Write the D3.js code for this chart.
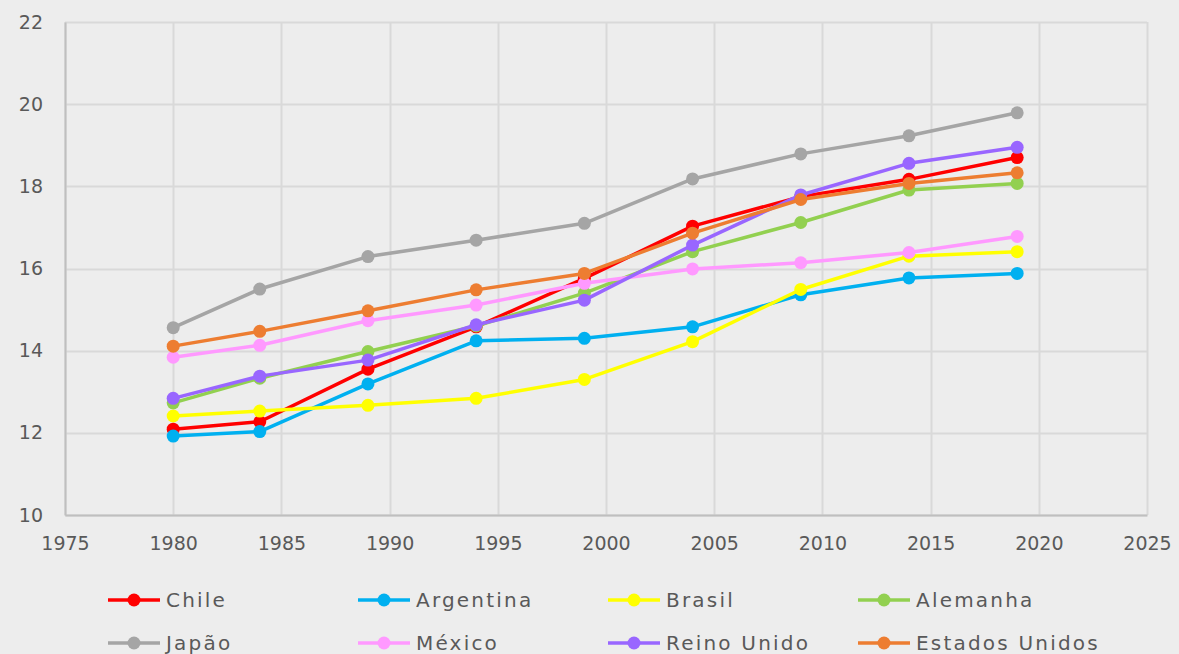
<!DOCTYPE html>
<html>
<head>
<meta charset="utf-8">
<script src="https://cdn.jsdelivr.net/npm/d3@7"></script>
<style>
	body { margin: 0; background: #ededed; overflow: hidden; }
	svg { display: block; }
	.tick text { font-family: "DejaVu Sans", sans-serif; font-size: 19px; fill: #595959; }
	.legend text { font-family: "DejaVu Sans", sans-serif; font-size: 20px; fill: #595959; letter-spacing: 2.2px; }
</style>
</head>
<body>
<div id="chart"></div>
<script>

	// data
	var years = [1980, 1984, 1989, 1994, 1999, 2004, 2009, 2014, 2019];

	var chile    = [12.09, 12.27, 13.55, 14.58, 15.76, 17.03, 17.75, 18.17, 18.70];
	var argentina = [11.92, 12.03, 13.19, 14.24, 14.30, 14.58, 15.36, 15.77, 15.88];
	var brasil   = [12.41, 12.53, 12.67, 12.84, 13.30, 14.22, 15.49, 16.30, 16.41];
	var alemanha = [12.73, 13.33, 13.98, 14.60, 15.40, 16.41, 17.12, 17.91, 18.07];
	var japao    = [14.56, 15.50, 16.29, 16.69, 17.10, 18.18, 18.79, 19.23, 19.79];
	var mexico   = [13.84, 14.13, 14.73, 15.11, 15.64, 15.99, 16.14, 16.39, 16.78];
	var reinoUnido = [12.84, 13.38, 13.77, 14.63, 15.23, 16.57, 17.79, 18.56, 18.95];
	var eua      = [14.11, 14.47, 14.97, 15.48, 15.88, 16.86, 17.68, 18.07, 18.33];

	var seriesNames = ["Chile", "Argentina", "Brasil", "Alemanha", "Japão", "México", "Reino Unido", "Estados Unidos"];
	var seriesValues = [chile, argentina, brasil, alemanha, japao, mexico, reinoUnido, eua];
	var seriesColors = ["#ff0000", "#00b0f0", "#ffff00", "#92d050", "#a5a5a5", "#ff99ff", "#9966ff", "#ed7d31"];

	var xTicks = [1975, 1980, 1985, 1990, 1995, 2000, 2005, 2010, 2015, 2020, 2025];
	var yTicks = [10, 12, 14, 16, 18, 20, 22];

	var W = 1179, H = 654;
	var margin = {top: 22, right: 32, bottom: 139, left: 65};
	var width = W - margin.left - margin.right;
	var height = H - margin.top - margin.bottom;

	var svg = d3.select("#chart").append("svg")
		.attr("width", W)
		.attr("height", H);

	svg.append("rect")
		.attr("width", W)
		.attr("height", H)
		.attr("fill", "#ededed");

	var g = svg.append("g")
		.attr("transform", "translate(" + margin.left + "," + margin.top + ")");

	var x = d3.scaleLinear().domain([1975, 2025]).range([0, width]);
	var y = d3.scaleLinear().domain([10, 22]).range([height, 0]);

	// gridlines
	g.append("g")
		.selectAll("line")
		.data(yTicks)
		.enter()
		.append("line")
			.attr("x1", 0)
			.attr("x2", width)
			.attr("y1", function(d) { return Math.round(y(d)) + 0.5; })
			.attr("y2", function(d) { return Math.round(y(d)) + 0.5; })
			.attr("stroke", "#d9d9d9")
			.attr("stroke-width", 2);

	g.append("g")
		.selectAll("line")
		.data(xTicks)
		.enter()
		.append("line")
			.attr("x1", function(d) { return Math.round(x(d)) + 0.5; })
			.attr("x2", function(d) { return Math.round(x(d)) + 0.5; })
			.attr("y1", 0)
			.attr("y2", height)
			.attr("stroke", "#d9d9d9")
			.attr("stroke-width", 2);

	// axes
	var xAxis = d3.axisBottom(x)
		.tickValues(xTicks)
		.tickFormat(d3.format("d"))
		.tickSize(0)
		.tickPadding(22);

	var yAxis = d3.axisLeft(y)
		.tickValues(yTicks)
		.tickSize(0)
		.tickPadding(22);

	var xAxisG = g.append("g")
		.attr("class", "x axis")
		.attr("transform", "translate(0," + height + ")")
		.call(xAxis);
	xAxisG.select(".domain").attr("stroke", "#bfbfbf").attr("stroke-width", 2);

	var yAxisG = g.append("g")
		.attr("class", "y axis")
		.call(yAxis);
	yAxisG.select(".domain").attr("stroke", "#bfbfbf").attr("stroke-width", 2);

	// series
	var line = d3.line()
		.x(function(d, i) { return x(years[i]); })
		.y(function(d) { return y(d); });

	seriesValues.forEach(function(vals, s) {
		var sg = g.append("g");
		sg.append("path")
			.datum(vals)
			.attr("d", line)
			.attr("fill", "none")
			.attr("stroke", seriesColors[s])
			.attr("stroke-width", 3.5)
			.attr("stroke-linejoin", "round");
		sg.selectAll("circle")
			.data(vals)
			.enter()
			.append("circle")
				.attr("cx", function(d, i) { return x(years[i]); })
				.attr("cy", function(d) { return y(d); })
				.attr("r", 6.5)
				.attr("fill", seriesColors[s]);
	});

	// legend
	var legend = svg.append("g").attr("class", "legend");

	var item = legend.selectAll("g")
		.data(seriesNames)
		.enter()
		.append("g")
			.attr("transform", function(d, i) {
				return "translate(" + (108 + (i % 4) * 250) + "," + (600 + Math.floor(i / 4) * 43) + ")";
			});

	item.append("line")
		.attr("x1", 0)
		.attr("x2", 52)
		.attr("stroke", function(d, i) { return seriesColors[i]; })
		.attr("stroke-width", 3.5);

	item.append("circle")
		.attr("cx", 26)
		.attr("r", 6.5)
		.attr("fill", function(d, i) { return seriesColors[i]; });

	item.append("text")
		.attr("x", 58)
		.attr("dy", "0.36em")
		.text(function(d) { return d; });

</script>
</body>
</html>
